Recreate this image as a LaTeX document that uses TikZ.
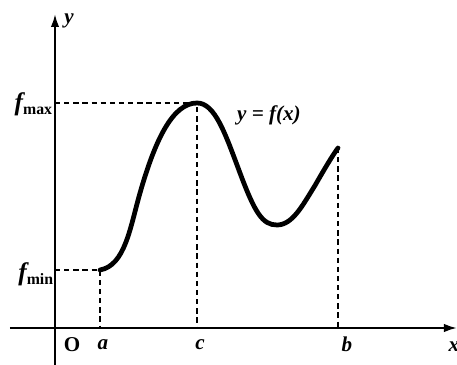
\documentclass[tikz,border=0pt]{standalone}
\usepackage{fontspec}
\setmainfont{Liberation Serif}
\usetikzlibrary{arrows.meta, calc}
\tikzset{
  axis/.style={line width=1.2pt, -{Latex[length=2.6mm,width=1.7mm]}},
  guide/.style={line width=1.3pt, dash pattern=on 3pt off 2.2pt},
  curve/.style={line width=2.7pt, line cap=round},
  lbl/.style={font=\large\bfseries\itshape, inner sep=0pt}
}
\newcommand{\fsub}[1]{{\Large\bfseries\itshape f}\raisebox{-0.45ex}{\small\bfseries #1}}
\begin{document}
\begin{tikzpicture}[scale=1]
    \useasboundingbox (-1.1,-0.74) rectangle (8.04,6.56);
    % axes
    \coordinate (xl) at (-0.9,0);
    \coordinate (xr) at (8.04,0);
    \coordinate (yb) at (0,-0.74);
    \coordinate (yt) at (0,6.28);
    \draw[axis] (xl) -- (xr);
    \draw[axis] (yb) -- (yt);

    % points on the graph
    \coordinate (pa) at (0.9,1.16);
    \coordinate (pc) at (2.84,4.5);
    \coordinate (pb) at (5.66,3.6);
    \coordinate (pm) at (4.44,2.06);
    \coordinate (fmin) at (0,1.16);
    \coordinate (fmax) at (0,4.5);
    \coordinate (ta) at (0.9,0);
    \coordinate (tc) at (2.84,0);
    \coordinate (tb) at (5.66,0);

    % dashed guides
    \draw[guide] (fmin) -- (pa) -- (ta);
    \draw[guide] (fmax) -- (pc) -- (tc);
    \draw[guide] (pb) -- (tb);

    % the curve
    \draw[curve] (pa) .. controls (1.4,1.25) and (1.5,2.0) .. (1.7,2.7)
        .. controls (2.0,3.75) and (2.35,4.5) .. (pc)
        .. controls (3.2,4.5) and (3.4,3.9) .. (3.7,3.1)
        .. controls (4.0,2.3) and (4.15,2.06) .. (pm)
        .. controls (4.75,2.06) and (4.95,2.45) .. (5.2,2.85)
        .. controls (5.4,3.2) and (5.55,3.45) .. (pb);

    % labels
    \node[lbl] (ly) at (0.28,6.14) {y};
    \node[anchor=east, inner sep=0pt] (lmax) at (-0.05,4.47) {\fsub{max}};
    \node[anchor=east, inner sep=0pt] (lmin) at (-0.03,1.07) {\fsub{min}};
    \node[font=\large\bfseries, inner sep=0pt] (lo) at (0.34,-0.34) {O};
    \node[lbl] (la) at (0.96,-0.34) {a};
    \node[lbl] (lc) at (2.9,-0.34) {c};
    \node[lbl] (lb) at (5.84,-0.32) {b};
    \node[lbl] (lx) at (7.98,-0.38) {x};
    \node[lbl] (lf) at (4.28,4.26) {y = f(x)};
\end{tikzpicture}
\end{document}
